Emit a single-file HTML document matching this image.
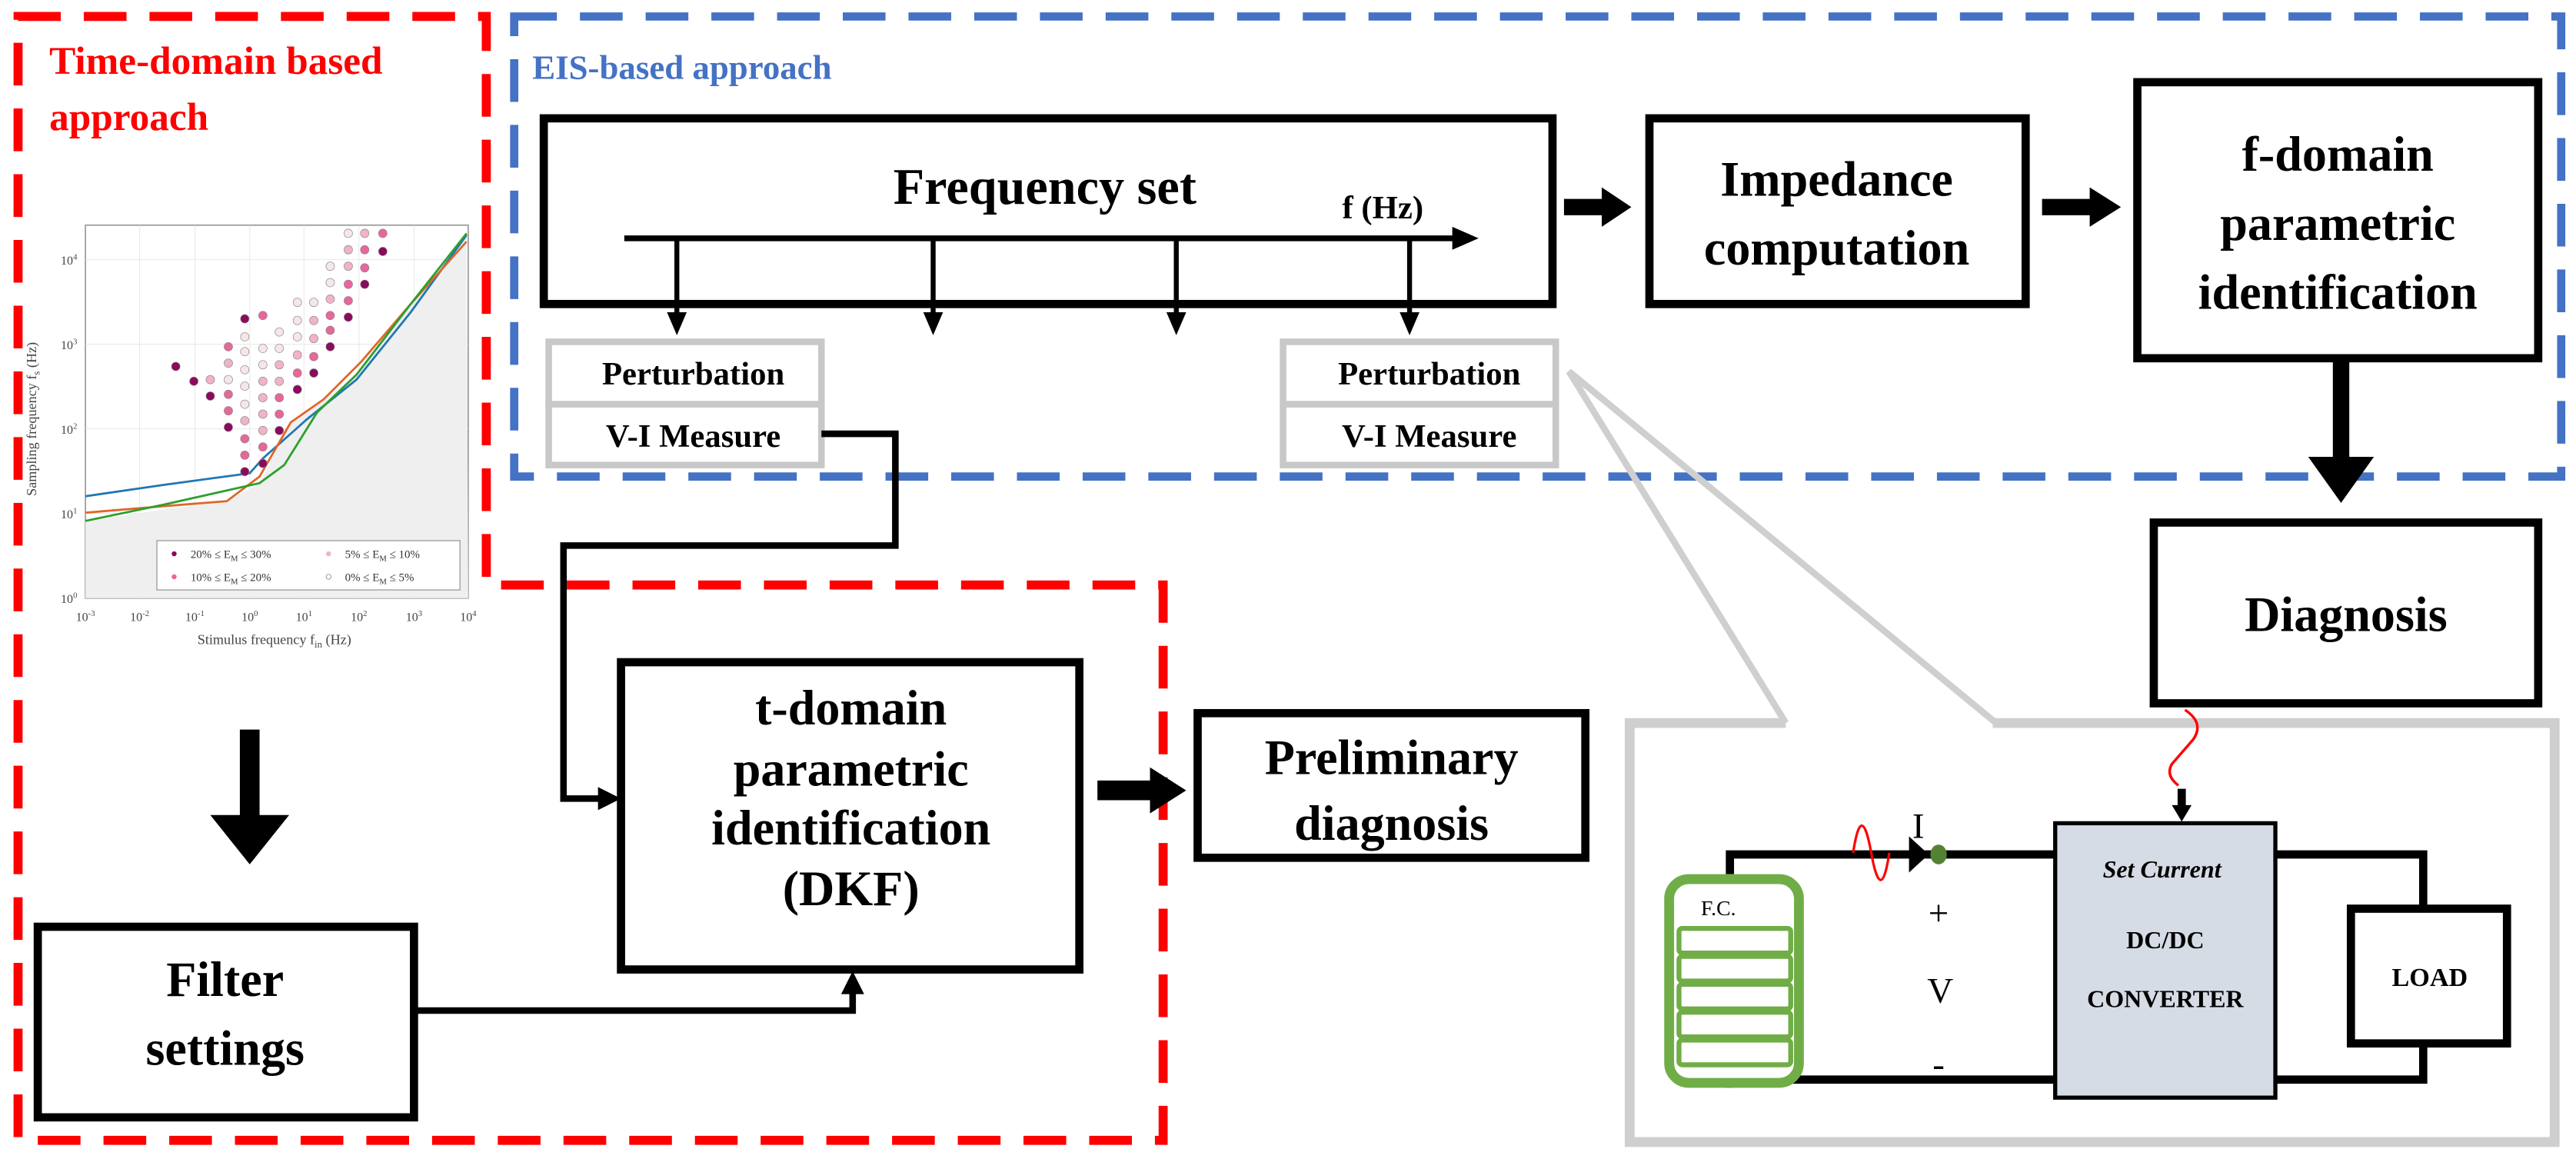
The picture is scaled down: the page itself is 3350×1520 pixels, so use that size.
<!DOCTYPE html>
<html><head><meta charset="utf-8"><style>
html,body{margin:0;padding:0;background:#fff}
svg{display:block}
text{font-family:"Liberation Serif",serif}
.b{font-weight:bold}
</style></head><body>
<svg width="3350" height="1520" viewBox="0 0 1568 711.4" xmlns="http://www.w3.org/2000/svg">

<!-- chart -->
<g>
<rect x="52" y="137" width="233" height="227" fill="#fff" stroke="#999" stroke-width="0.8"/>
<g stroke="#e4e4e4" stroke-width="0.4">
<line x1="85" y1="137" x2="85" y2="364"/><line x1="118.6" y1="137" x2="118.6" y2="364"/><line x1="152" y1="137" x2="152" y2="364"/><line x1="185" y1="137" x2="185" y2="364"/><line x1="218.5" y1="137" x2="218.5" y2="364"/><line x1="252" y1="137" x2="252" y2="364"/>
<line x1="52" y1="158" x2="285" y2="158"/><line x1="52" y1="209.5" x2="285" y2="209.5"/><line x1="52" y1="261" x2="285" y2="261"/><line x1="52" y1="312.5" x2="285" y2="312.5"/>
</g>
<path d="M52,317 L100,310 L138,305 L158,294 L177,257 L197,243 L217,228 L250,185 L284,142 L285,364 L52,364 Z" fill="#efefef"/>
<path d="M52,302 L100,295 L152,288 L160,279 L187,255 L217,231 L250,190 L284,143" fill="none" stroke="#1f77b4" stroke-width="1.3"/>
<path d="M52,312 L100,308 L138,305 L158,290 L177,257 L197,243 L220,220 L250,185 L284,147" fill="none" stroke="#e0662a" stroke-width="1.3"/>
<path d="M52,317 L100,307 L158,294 L173,283 L193,251 L217,228 L250,185 L284,142" fill="none" stroke="#2ca02c" stroke-width="1.3"/>
<g stroke="#888" stroke-width="0.3">
<circle cx="107" cy="223" r="2.6" fill="#8b0a5c"/><circle cx="118" cy="232" r="2.6" fill="#8b0a5c"/><circle cx="128" cy="231" r="2.6" fill="#f0b4c4"/><circle cx="128" cy="241" r="2.6" fill="#8b0a5c"/>
<circle cx="139" cy="211" r="2.6" fill="#e8669a"/><circle cx="139" cy="221" r="2.6" fill="#f0b4c4"/><circle cx="139" cy="231" r="2.6" fill="#f7e6e6"/><circle cx="139" cy="240" r="2.6" fill="#e8669a"/><circle cx="139" cy="250" r="2.6" fill="#e8669a"/><circle cx="139" cy="260" r="2.6" fill="#8b0a5c"/>
<circle cx="149" cy="194" r="2.6" fill="#8b0a5c"/><circle cx="149" cy="205" r="2.6" fill="#f7e6e6"/><circle cx="149" cy="214" r="2.6" fill="#f7e6e6"/><circle cx="149" cy="225" r="2.6" fill="#f7e6e6"/><circle cx="149" cy="235" r="2.6" fill="#f7e6e6"/><circle cx="149" cy="246" r="2.6" fill="#f7e6e6"/><circle cx="149" cy="256" r="2.6" fill="#f0b4c4"/><circle cx="149" cy="267" r="2.6" fill="#e8669a"/><circle cx="149" cy="277" r="2.6" fill="#e8669a"/><circle cx="149" cy="287" r="2.6" fill="#8b0a5c"/>
<circle cx="160" cy="192" r="2.6" fill="#e8669a"/><circle cx="160" cy="212" r="2.6" fill="#f7e6e6"/><circle cx="160" cy="222" r="2.6" fill="#f7e6e6"/><circle cx="160" cy="232" r="2.6" fill="#f0b4c4"/><circle cx="160" cy="242" r="2.6" fill="#f0b4c4"/><circle cx="160" cy="252" r="2.6" fill="#f0b4c4"/><circle cx="160" cy="262" r="2.6" fill="#f0b4c4"/><circle cx="160" cy="272" r="2.6" fill="#e8669a"/><circle cx="160" cy="282" r="2.6" fill="#8b0a5c"/>
<circle cx="170" cy="202" r="2.6" fill="#f7e6e6"/><circle cx="170" cy="212" r="2.6" fill="#f7e6e6"/><circle cx="170" cy="222" r="2.6" fill="#f0b4c4"/><circle cx="170" cy="232" r="2.6" fill="#f0b4c4"/><circle cx="170" cy="242" r="2.6" fill="#e8669a"/><circle cx="170" cy="252" r="2.6" fill="#e8669a"/><circle cx="170" cy="262" r="2.6" fill="#8b0a5c"/>
<circle cx="181" cy="184" r="2.6" fill="#f7e6e6"/><circle cx="181" cy="195" r="2.6" fill="#f7e6e6"/><circle cx="181" cy="205" r="2.6" fill="#f7e6e6"/><circle cx="181" cy="216" r="2.6" fill="#f0b4c4"/><circle cx="181" cy="227" r="2.6" fill="#e8669a"/><circle cx="181" cy="237" r="2.6" fill="#8b0a5c"/>
<circle cx="191" cy="184" r="2.6" fill="#f7e6e6"/><circle cx="191" cy="195" r="2.6" fill="#f0b4c4"/><circle cx="191" cy="206" r="2.6" fill="#f0b4c4"/><circle cx="191" cy="217" r="2.6" fill="#e8669a"/><circle cx="191" cy="227" r="2.6" fill="#8b0a5c"/>
<circle cx="201" cy="162" r="2.6" fill="#f7e6e6"/><circle cx="201" cy="172" r="2.6" fill="#f7e6e6"/><circle cx="201" cy="182" r="2.6" fill="#f0b4c4"/><circle cx="201" cy="192" r="2.6" fill="#e8669a"/><circle cx="201" cy="201" r="2.6" fill="#e8669a"/><circle cx="201" cy="211" r="2.6" fill="#8b0a5c"/>
<circle cx="212" cy="142" r="2.6" fill="#f7e6e6"/><circle cx="212" cy="152" r="2.6" fill="#f0b4c4"/><circle cx="212" cy="162" r="2.6" fill="#f0b4c4"/><circle cx="212" cy="173" r="2.6" fill="#e8669a"/><circle cx="212" cy="183" r="2.6" fill="#e8669a"/><circle cx="212" cy="193" r="2.6" fill="#8b0a5c"/>
<circle cx="222" cy="142" r="2.6" fill="#f0b4c4"/><circle cx="222" cy="152" r="2.6" fill="#e8669a"/><circle cx="222" cy="163" r="2.6" fill="#e8669a"/><circle cx="222" cy="173" r="2.6" fill="#8b0a5c"/>
<circle cx="233" cy="142" r="2.6" fill="#e8669a"/><circle cx="233" cy="153" r="2.6" fill="#8b0a5c"/>
</g>
<rect x="95.5" y="329" width="184.5" height="30" fill="#fff" stroke="#999" stroke-width="0.6"/>
<g font-size="7" fill="#333">
<circle cx="106" cy="337" r="1.5" fill="#8b0a5c"/><text x="116" y="339.5">20% ≤ E<tspan font-size="5" dy="2">M</tspan><tspan dy="-2"> ≤ 30%</tspan></text>
<circle cx="106" cy="351" r="1.5" fill="#e8669a"/><text x="116" y="353.5">10% ≤ E<tspan font-size="5" dy="2">M</tspan><tspan dy="-2"> ≤ 20%</tspan></text>
<circle cx="200" cy="337" r="1.5" fill="#f0b4c4"/><text x="210" y="339.5">5% ≤ E<tspan font-size="5" dy="2">M</tspan><tspan dy="-2"> ≤ 10%</tspan></text>
<circle cx="200" cy="351" r="1.5" fill="#fff" stroke="#888" stroke-width="0.4"/><text x="210" y="353.5">0% ≤ E<tspan font-size="5" dy="2">M</tspan><tspan dy="-2"> ≤ 5%</tspan></text>
</g>
<g font-size="7.5" fill="#444" text-anchor="middle">
<text x="52" y="378">10<tspan font-size="5" dy="-3">-3</tspan></text><text x="85" y="378">10<tspan font-size="5" dy="-3">-2</tspan></text><text x="118.6" y="378">10<tspan font-size="5" dy="-3">-1</tspan></text><text x="152" y="378">10<tspan font-size="5" dy="-3">0</tspan></text><text x="185" y="378">10<tspan font-size="5" dy="-3">1</tspan></text><text x="218.5" y="378">10<tspan font-size="5" dy="-3">2</tspan></text><text x="252" y="378">10<tspan font-size="5" dy="-3">3</tspan></text><text x="285" y="378">10<tspan font-size="5" dy="-3">4</tspan></text>
</g>
<g font-size="7.5" fill="#444" text-anchor="end">
<text x="47" y="161">10<tspan font-size="5" dy="-3">4</tspan></text><text x="47" y="212.5">10<tspan font-size="5" dy="-3">3</tspan></text><text x="47" y="264">10<tspan font-size="5" dy="-3">2</tspan></text><text x="47" y="315.5">10<tspan font-size="5" dy="-3">1</tspan></text><text x="47" y="367">10<tspan font-size="5" dy="-3">0</tspan></text>
</g>
<text x="167" y="392" font-size="8.5" fill="#444" text-anchor="middle">Stimulus frequency f<tspan font-size="6" dy="2">in</tspan><tspan dy="-2"> (Hz)</tspan></text>
<text transform="translate(22,255) rotate(-90)" font-size="8.5" fill="#444" text-anchor="middle">Sampling frequency f<tspan font-size="6" dy="2">s</tspan><tspan dy="-2"> (Hz)</tspan></text>
</g>

<!-- red dashed -->
<path d="M11,10 H296 V356 H708 V694 H11 Z" fill="none" stroke="#ff0000" stroke-width="5.5" stroke-dasharray="26,14"/>
<text x="30" y="45" class="b" font-size="24" fill="#ff0000">Time-domain based</text>
<text x="30" y="79" class="b" font-size="24" fill="#ff0000">approach</text>

<!-- blue dashed -->
<rect x="313" y="10" width="1246" height="280" fill="none" stroke="#4472c4" stroke-width="5" stroke-dasharray="26,14"/>
<text x="324" y="48" class="b" font-size="21" fill="#4472c4">EIS-based approach</text>

<!-- frequency set -->
<rect x="331" y="72" width="614" height="113" fill="#fff" stroke="#000" stroke-width="5"/>
<text x="636" y="124" class="b" font-size="31" text-anchor="middle">Frequency set</text>
<text x="817" y="133" class="b" font-size="20">f (Hz)</text>
<line x1="380" y1="145" x2="886" y2="145" stroke="#000" stroke-width="3.5"/>
<path d="M884,138 L900,145 L884,152 Z" fill="#000"/>
<g stroke="#000" stroke-width="3">
<line x1="412" y1="145" x2="412" y2="192"/><line x1="568" y1="145" x2="568" y2="192"/><line x1="716" y1="145" x2="716" y2="192"/><line x1="858" y1="145" x2="858" y2="192"/>
</g>
<g fill="#000">
<path d="M406,190 H418 L412,204 Z"/><path d="M562,190 H574 L568,204 Z"/><path d="M710,190 H722 L716,204 Z"/><path d="M852,190 H864 L858,204 Z"/>
</g>
<g fill="#fff" stroke="#c8c8c8" stroke-width="4">
<rect x="334" y="208" width="166" height="38"/><rect x="334" y="246" width="166" height="37"/>
<rect x="781" y="208" width="166" height="38"/><rect x="781" y="246" width="166" height="37"/>
</g>
<g class="b" font-size="20" text-anchor="middle">
<text x="422" y="234">Perturbation</text><text x="422" y="272">V-I Measure</text>
<text x="870" y="234">Perturbation</text><text x="870" y="272">V-I Measure</text>
</g>

<!-- impedance etc -->
<path d="M952,121 H975 V114 L993,126 L975,138 V131 H952 Z" fill="#000"/>
<rect x="1004" y="72" width="229" height="113" fill="#fff" stroke="#000" stroke-width="5"/>
<text x="1118" y="119" class="b" font-size="30" text-anchor="middle">Impedance</text>
<text x="1118" y="161" class="b" font-size="30" text-anchor="middle">computation</text>
<path d="M1243,121 H1272 V114 L1291,126 L1272,138 V131 H1243 Z" fill="#000"/>
<rect x="1301" y="50" width="244" height="168" fill="#fff" stroke="#000" stroke-width="5"/>
<text x="1423" y="104" class="b" font-size="30" text-anchor="middle">f-domain</text>
<text x="1423" y="146" class="b" font-size="30" text-anchor="middle">parametric</text>
<text x="1423" y="188" class="b" font-size="30" text-anchor="middle">identification</text>
<path d="M1420,220 H1430 V278 H1445 L1425,306 L1405,278 H1420 Z" fill="#000"/>
<rect x="1311" y="318" width="234" height="110" fill="#fff" stroke="#000" stroke-width="5"/>
<text x="1428" y="384" class="b" font-size="30" text-anchor="middle">Diagnosis</text>

<!-- callout -->
<path d="M1087,440 L955,226 L1215,440" fill="none" stroke="#cfcfcf" stroke-width="4"/>
<path d="M1087,440 H992 V695 H1555 V440 H1213" fill="none" stroke="#cfcfcf" stroke-width="6"/>

<!-- circuit -->
<path d="M1053,532 V520 H1252 M1053,662 V657 H1252 M1384,520 H1475 V552 M1384,657 H1475 V635" fill="none" stroke="#000" stroke-width="5"/>
<rect x="1016" y="535" width="79" height="124" rx="12" fill="#fff" stroke="#70ad47" stroke-width="6"/>
<text x="1046" y="557" font-size="13" text-anchor="middle" font-family="Liberation Sans">F.C.</text>
<g fill="#fff" stroke="#70ad47" stroke-width="3">
<rect x="1022" y="565" width="68" height="15" rx="2"/><rect x="1022" y="582" width="68" height="15" rx="2"/><rect x="1022" y="599" width="68" height="15" rx="2"/><rect x="1022" y="616" width="68" height="15" rx="2"/><rect x="1022" y="633" width="68" height="15" rx="2"/>
</g>
<path d="M1128,519 Q1133,486 1139,519 Q1145,552 1150,519" fill="none" stroke="#ff0000" stroke-width="1.5"/>
<path d="M1162,509 L1174,520 L1162,531 Z" fill="#000"/>
<ellipse cx="1180" cy="520" rx="5" ry="6" fill="#548235"/>
<text x="1164" y="510" font-size="22">I</text>
<text x="1180" y="563" font-size="22" text-anchor="middle">+</text>
<text x="1181" y="610" font-size="22" text-anchor="middle">V</text>
<text x="1180" y="655" font-size="22" text-anchor="middle">-</text>
<rect x="1251" y="501" width="134" height="167" fill="#d6dce5" stroke="#000" stroke-width="2.5"/>
<text x="1316" y="534" font-size="15" class="b" font-style="italic" text-anchor="middle">Set Current</text>
<text x="1318" y="577" font-size="15" class="b" text-anchor="middle" font-family="Liberation Sans">DC/DC</text>
<text x="1318" y="613" font-size="15" class="b" text-anchor="middle" font-family="Liberation Sans">CONVERTER</text>
<rect x="1431" y="553" width="95" height="82" fill="#fff" stroke="#000" stroke-width="5"/>
<text x="1479" y="600" font-size="16" class="b" text-anchor="middle" font-family="Liberation Sans">LOAD</text>
<path d="M1330,432 Q1342,440 1335,450 L1322,465 Q1318,472 1326,478" fill="none" stroke="#ff0000" stroke-width="1.6"/>
<line x1="1328" y1="480" x2="1328" y2="492" stroke="#000" stroke-width="5"/>
<path d="M1322,490 L1334,490 L1328,500 Z" fill="#000"/>

<!-- time domain flow -->
<path d="M146,444 H158 V496 H176 L152,526 L128,496 H146 Z" fill="#000"/>
<rect x="23" y="564" width="229" height="116" fill="#fff" stroke="#000" stroke-width="5"/>
<text x="137" y="606" class="b" font-size="30" text-anchor="middle">Filter</text>
<text x="137" y="648" class="b" font-size="30" text-anchor="middle">settings</text>
<rect x="378" y="403" width="279" height="187" fill="#fff" stroke="#000" stroke-width="5"/>
<g class="b" font-size="30" text-anchor="middle">
<text x="518" y="441">t-domain</text><text x="518" y="478">parametric</text><text x="518" y="514">identification</text><text x="518" y="551">(DKF)</text>
</g>
<path d="M500,264 H545 V332 H343 V486 H366" fill="none" stroke="#000" stroke-width="4"/>
<path d="M364,479 L378,486 L364,493 Z" fill="#000"/>
<path d="M252,615 H519 V604" fill="none" stroke="#000" stroke-width="4"/>
<path d="M512,605 L519,591 L526,605 Z" fill="#000"/>
<path d="M668,475 H700 V467 L722,481 L700,495 V487 H668 Z" fill="#000"/>
<rect x="729" y="434" width="236" height="88" fill="#fff" stroke="#000" stroke-width="5"/>
<text x="847" y="471" class="b" font-size="30" text-anchor="middle">Preliminary</text>
<text x="847" y="511" class="b" font-size="30" text-anchor="middle">diagnosis</text>
</svg>
</body></html>
